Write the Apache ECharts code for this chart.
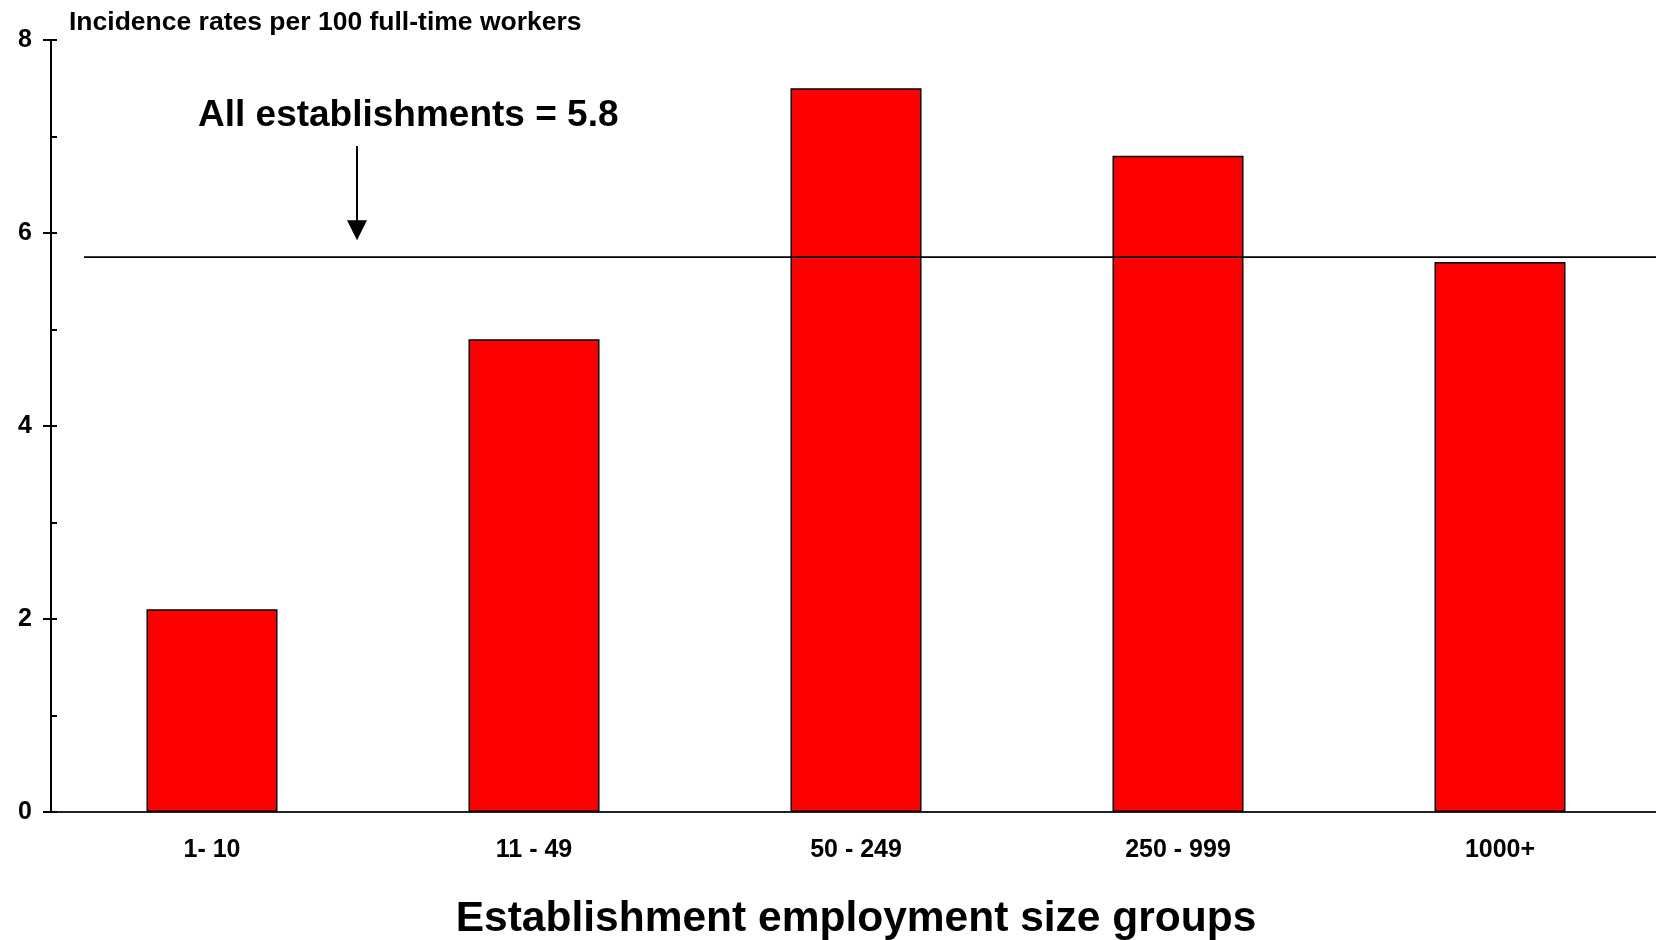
<!DOCTYPE html>
<html>
<head>
<meta charset="utf-8">
<script src="https://cdn.jsdelivr.net/npm/echarts@6/dist/echarts.min.js"></script>
<style>
html,body{margin:0;padding:0;background:#fff;}
#c{width:1656px;height:940px;}
</style>
</head>
<body>
<div id="c"></div>
<script>
const categories = ['1- 10', '11 - 49', '50 - 249', '250 - 999', '1000+'];
const rates = [2.1, 4.9, 7.5, 6.8, 5.7];
const allEstablishments = 5.75;
const allLabel = 'All establishments = 5.8';
const yTicks = [0, 2, 4, 6, 8];

const FONT = '"Liberation Sans", Arial, sans-serif';
const chart = echarts.init(document.getElementById('c'));
chart.setOption({
  animation: false,
  backgroundColor: '#fff',
  title: {
    text: 'Incidence rates per 100 full-time workers',
    left: 69, top: 9, padding: 0,
    textStyle: {fontFamily: FONT, fontWeight: 'bold', fontSize: 26.5, color: '#000'}
  },
  grid: {left: 51, right: -5, top: 40, bottom: 128, containLabel: false, outerBoundsMode: 'none'},
  xAxis: [{
    type: 'category',
    data: categories,
    position: 'bottom',
    axisLine: {lineStyle: {color: '#000', width: 2}},
    axisTick: {show: false},
    axisLabel: {fontFamily: FONT, fontWeight: 'bold', fontSize: 25, color: '#000', margin: 26},
    name: 'Establishment employment size groups',
    nameLocation: 'middle',
    nameGap: 86,
    nameTextStyle: {fontFamily: FONT, fontWeight: 'bold', fontSize: 42.5, color: '#000'}
  }, {
    type: 'category',
    data: categories,
    position: 'top',
    axisLine: {lineStyle: {color: '#222', width: 2}},
    axisTick: {show: false},
    axisLabel: {show: false}
  }],
  yAxis: [{
    type: 'value',
    min: yTicks[0], max: yTicks[yTicks.length - 1], interval: 2,
    position: 'left',
    axisLine: {show: true, lineStyle: {color: '#000', width: 2}},
    axisTick: {show: true, inside: false, length: 8, lineStyle: {color: '#000', width: 2}},
    axisLabel: {fontFamily: FONT, fontWeight: 'bold', fontSize: 25, color: '#000', margin: 19},
    splitLine: {show: false}
  }, {
    type: 'value',
    min: yTicks[0], max: yTicks[yTicks.length - 1], interval: 1,
    position: 'left',
    axisLine: {show: false},
    axisTick: {show: true, inside: true, length: 6, lineStyle: {color: '#000', width: 2}},
    axisLabel: {show: false},
    splitLine: {show: false}
  }],
  series: [{
    type: 'bar',
    data: rates,
    xAxisIndex: 0, yAxisIndex: 0,
    barWidth: 131,
    itemStyle: {color: '#ff0000', borderColor: '#000', borderWidth: 1.5}
  }]
});

// Reference line and annotation placed via the library's scale
const yLine = chart.convertToPixel({yAxisIndex: 0}, allEstablishments);
chart.setOption({
  graphic: [
    {type: 'line', shape: {x1: 84, y1: yLine, x2: 1656, y2: yLine},
     style: {stroke: '#000', lineWidth: 1.6}, z: 100},
    {type: 'text', left: 198, top: 97,
     style: {text: allLabel, font: 'bold 37px ' + FONT, fill: '#000'}, z: 100},
    {type: 'line', shape: {x1: 357, y1: 146, x2: 357, y2: yLine - 34},
     style: {stroke: '#000', lineWidth: 2}, z: 100},
    {type: 'polygon', shape: {points: [[347, yLine - 37], [367, yLine - 37], [357, yLine - 17]]},
     style: {fill: '#000'}, z: 100}
  ]
});
</script>
</body>
</html>
